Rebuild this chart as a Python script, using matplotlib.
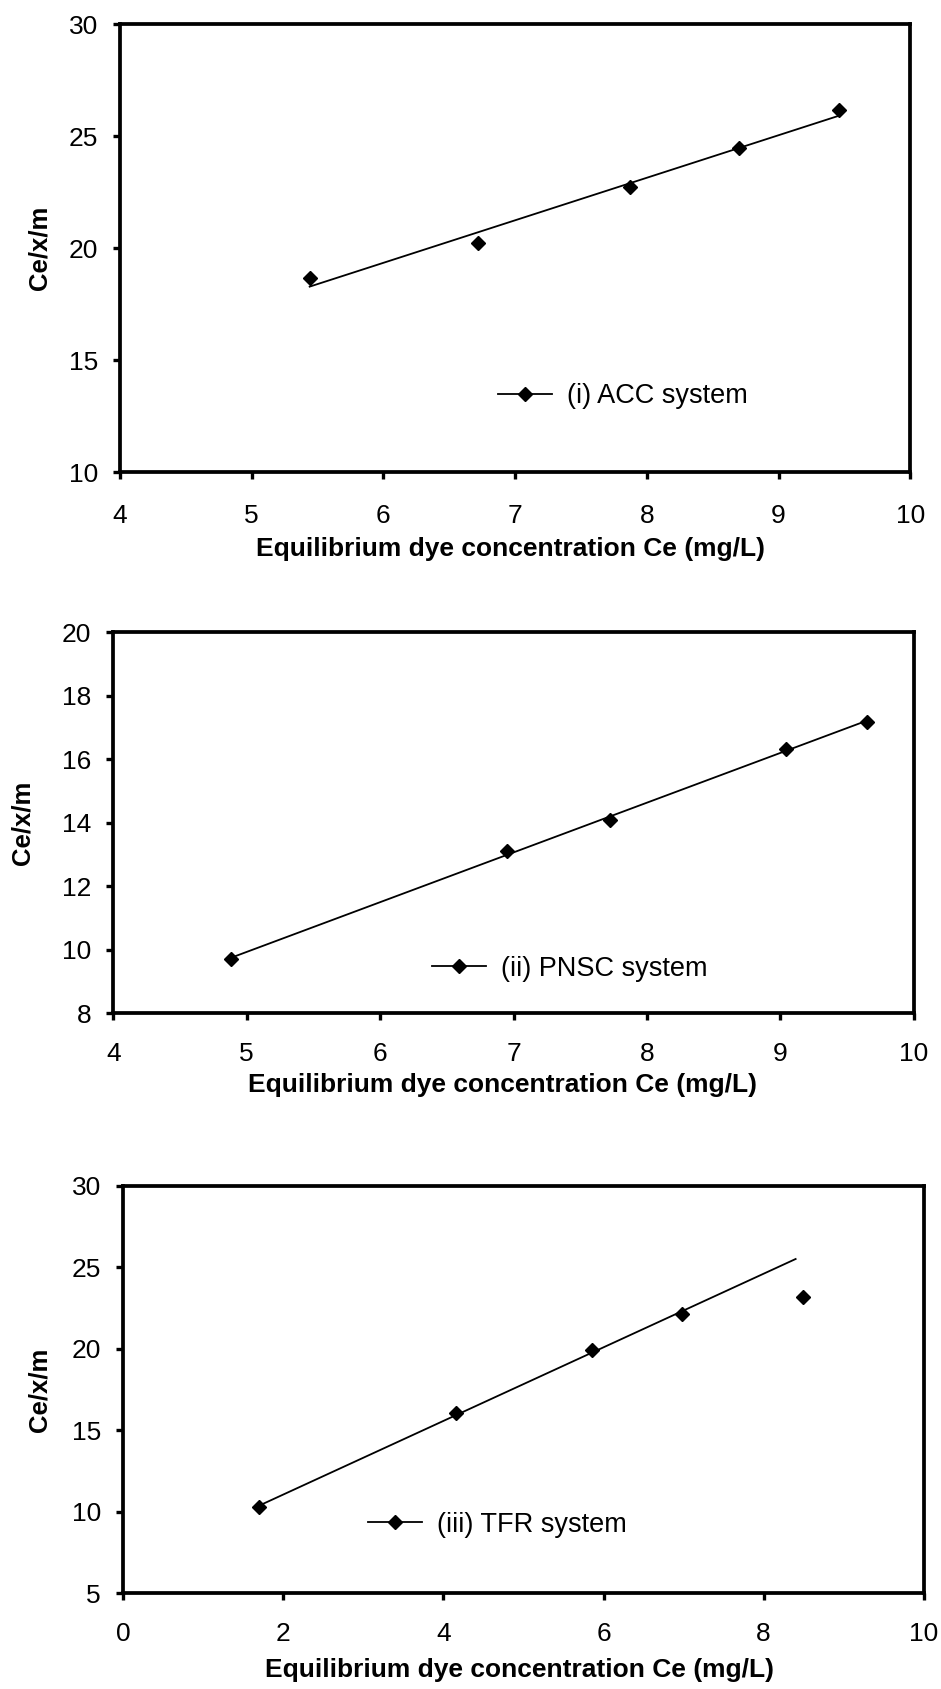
import numpy as np
import matplotlib
matplotlib.use("Agg")
import matplotlib.pyplot as plt
from matplotlib.lines import Line2D

plt.rcParams["font.family"] = ["Liberation Sans", "DejaVu Sans"]

# Equilibrium dye concentration Ce (mg/L) and Ce/(x/m) for each adsorbent system
acc_ce = [5.44, 6.72, 7.87, 8.70, 9.46]
acc_q = [18.68, 20.22, 22.73, 24.49, 26.15]

pnsc_ce = [4.88, 6.95, 7.72, 9.04, 9.65]
pnsc_q = [9.72, 13.10, 14.08, 16.33, 17.18]

tfr_ce = [1.70, 4.16, 5.86, 6.98, 8.49]
tfr_q = [10.28, 16.07, 19.92, 22.12, 23.20]

labels = ["(i) ACC system", "(ii) PNSC system", "(iii) TFR system"]

# number of leading points used for each linear fit, and where each fit line ends
fit_counts = [5, 5, 4]
fit_ends = [None, None, 8.4]

xlims = [(4, 10), (4, 10), (0, 10)]
xticks = [np.arange(4, 11, 1), np.arange(4, 11, 1), np.arange(0, 11, 2)]
ylims = [(10, 30), (8, 20), (5, 30)]
yticks = [np.arange(10, 31, 5), np.arange(8, 21, 2), np.arange(5, 31, 5)]

series = [(acc_ce, acc_q), (pnsc_ce, pnsc_q), (tfr_ce, tfr_q)]

W, H = 941, 1689
fig = plt.figure(figsize=(W / 100, H / 100), dpi=100)

# axes boxes in pixels: left, top, right, bottom
boxes = [(120, 24, 910.3, 472.3),
         (113.3, 632.3, 913.7, 1013.3),
         (123.3, 1185.7, 923.7, 1593.3)]
legend_anchor = [(0.478, 0.170), (0.398, 0.117), (0.306, 0.168)]
ylabel_x = [-0.102, -0.114, -0.105]
xlabel_pos = [(0.494, -0.172), (0.486, -0.188), (0.495, -0.188)]
xpads = [18.0, 16.0, 16.0]

TICK_FS = 19
LEGEND_FS = 19.5
LABEL_FS = 19
MS = 7

for i, ((xs, ys), box) in enumerate(zip(series, boxes)):
    l, t, r, b = box
    ax = fig.add_axes([l / W, 1 - b / H, (r - l) / W, (b - t) / H])
    xs = np.asarray(xs)
    ys = np.asarray(ys)

    n = fit_counts[i]
    slope, intercept = np.polyfit(xs[:n], ys[:n], 1)
    x_end = fit_ends[i] if fit_ends[i] is not None else xs[:n].max()
    xf = np.array([xs[:n].min(), x_end])
    ax.plot(xf, slope * xf + intercept, color="black", lw=1.3, zorder=2)
    ax.plot(xs, ys, linestyle="none", marker="D", ms=MS, color="black", zorder=3)

    ax.set_xlim(*xlims[i])
    ax.set_ylim(*ylims[i])
    ax.set_xticks(xticks[i])
    ax.set_yticks(yticks[i])

    for s in ax.spines.values():
        s.set_linewidth(2.7)
        s.set_color("black")
    ax.tick_params(axis="both", direction="out", length=5, width=2.4,
                   labelsize=TICK_FS, colors="black")
    ax.tick_params(axis="x", pad=xpads[i])
    ax.tick_params(axis="y", pad=11)

    ax.set_xlabel("Equilibrium dye concentration Ce (mg/L)",
                  fontsize=LABEL_FS, fontweight="bold")
    ax.xaxis.label.set_verticalalignment("center")
    ax.xaxis.set_label_coords(*xlabel_pos[i])

    ax.set_ylabel("Ce/x/m", fontsize=18.5, fontweight="bold")
    ax.yaxis.label.set_verticalalignment("center")
    ax.yaxis.set_label_coords(ylabel_x[i], 0.5)

    handle = Line2D([], [], color="black", lw=1.3, marker="D", ms=MS)
    ax.legend([handle], [labels[i]], loc="center left",
              bbox_to_anchor=legend_anchor[i], frameon=False,
              borderpad=0, borderaxespad=0, handlelength=2.0,
              handletextpad=0.55, fontsize=LEGEND_FS)

fig.savefig("out.png", dpi=100, facecolor="white")
